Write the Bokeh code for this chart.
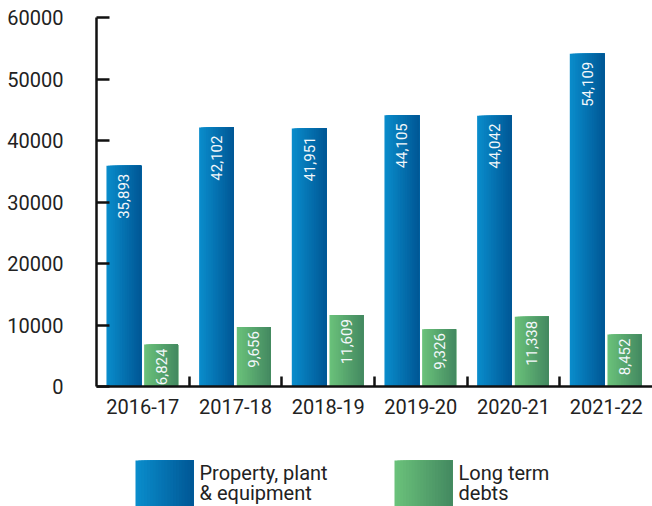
import numpy as np
from bokeh.plotting import figure
from bokeh.models import Range1d, FixedTicker, ColumnDataSource, LinearAxis
from bokeh.layouts import column
from bokeh.embed import file_html
from bokeh.resources import INLINE
from bokeh.core.properties import value

# ---- data ----
years = ["2016-17", "2017-18", "2018-19", "2019-20", "2020-21", "2021-22"]
ppe = [35893, 42102, 41951, 44105, 44042, 54109]
debts = [6824, 9656, 11609, 9326, 11338, 8452]
series_names = ["Property, plant\n& equipment", "Long term\ndebts"]
y_ticks = [0, 10000, 20000, 30000, 40000, 50000, 60000]

# ---- styles ----
FONT = "Roboto"
BLUE = ("#0A8CCB", "#005896")
GREEN = ("#6AC17A", "#448A61")
N = 20


def blend(c0, c1, t):
    a = [int(c0[i:i + 2], 16) for i in (1, 3, 5)]
    b = [int(c1[i:i + 2], 16) for i in (1, 3, 5)]
    return "#%02x%02x%02x" % tuple(round(a[j] + (b[j] - a[j]) * t) for j in range(3))


p = figure(width=652, height=440, x_range=Range1d(0, len(years)),
           y_range=Range1d(0, 60000), output_backend="svg", toolbar_location=None,
           min_border_left=96, min_border_right=0, min_border_top=17,
           min_border_bottom=54, x_axis_type=None, y_axis_type=None)
p.outline_line_color = None
p.background_fill_color = "white"

idx = np.arange(len(years))


def gradient_bars(fig, vals, center, width, colors):
    # each strip runs to the bar's right edge; later strips overlay -> no seams
    right = idx + center + width / 2
    for k in range(N):
        t = k / (N - 1)
        left = idx + center - width / 2 + k * width / N
        src = ColumnDataSource(dict(left=left, right=right, top=vals))
        fig.quad(left="left", right="right", top="top", bottom=0, source=src,
                 fill_color=blend(colors[0], colors[1], t), line_color=None)


gradient_bars(p, ppe, 0.295, 0.375, BLUE)
gradient_bars(p, debts, 0.697, 0.366, GREEN)


def bar_labels(vals, center, off):
    src = ColumnDataSource(dict(x=idx + center, y=vals, t=[f"{v:,}" for v in vals]))
    p.text(x="x", y="y", text="t", source=src, angle=np.pi / 2, text_align="right",
           text_baseline="middle", y_offset=off, text_color="#f4f8fb",
           text_font=value(FONT), text_font_size="15px")


bar_labels(ppe, 0.295, 8)
bar_labels(debts, 0.697, 4)

yaxis = LinearAxis(ticker=FixedTicker(ticks=y_ticks), major_tick_in=13, major_tick_out=0,
                   minor_tick_line_color=None, axis_line_width=2.5,
                   major_tick_line_width=2.5, major_label_standoff=33,
                   major_label_text_font=FONT, major_label_text_font_size="20px",
                   major_label_text_color="#222222", axis_line_color="#111111",
                   major_tick_line_color="#111111")
p.add_layout(yaxis, "left")

xaxis = LinearAxis(ticker=FixedTicker(ticks=[i + 0.5 for i in idx],
                                      minor_ticks=[float(i) for i in range(1, len(years))]),
                   major_tick_line_color=None, major_tick_in=0, major_tick_out=0,
                   minor_tick_in=10, minor_tick_out=0, minor_tick_line_width=2.5,
                   minor_tick_line_color="#111111",
                   axis_line_width=2.5, axis_line_color="#111111",
                   major_label_overrides={float(i) + 0.5: y for i, y in enumerate(years)},
                   major_label_standoff=12, major_label_text_font=FONT,
                   major_label_text_font_size="20px", major_label_text_color="#222222")
p.add_layout(xaxis, "below")

# ---- legend (its frame is aligned with the chart frame, so range = pixel span) ----
leg = figure(width=652, height=66, x_range=Range1d(96, 652), y_range=Range1d(66, 0),
             output_backend="svg", toolbar_location=None, x_axis_type=None,
             y_axis_type=None, min_border_left=96, min_border_right=0,
             min_border_top=0, min_border_bottom=0)
leg.outline_line_color = None

swatches = [(135, BLUE), (394, GREEN)]
for (x0, cols), name in zip(swatches, series_names):
    for k in range(N):
        t = k / (N - 1)
        l = x0 + k * 58 / N
        leg.quad(left=l, right=x0 + 58, top=20, bottom=66,
                 fill_color=blend(cols[0], cols[1], t), line_color=None)
    leg.text(x=[x0 + 64], y=[20], text=[name], text_align="left", text_baseline="top",
             text_font=value(FONT), text_font_size="20px", text_color="#222222",
             text_line_height=0.85)

layout = column(p, leg, spacing=0)
open("out.html", "w").write(file_html(layout, INLINE))
